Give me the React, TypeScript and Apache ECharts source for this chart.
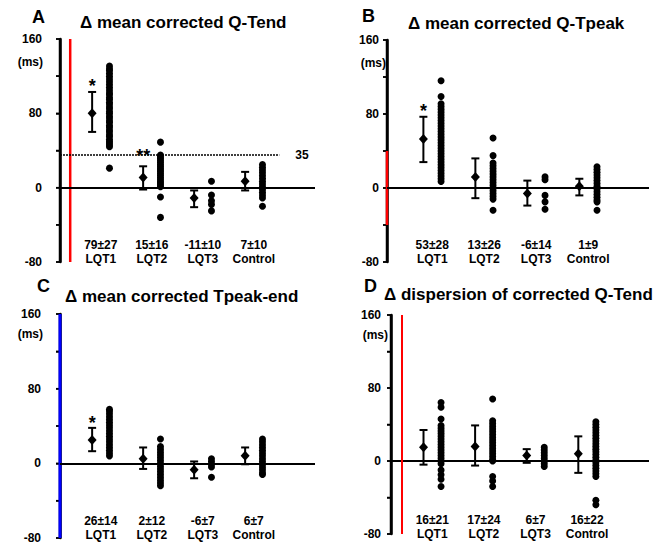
import React, { useEffect, useRef } from "react";
import * as echarts from "echarts";

const categories = ["LQT1", "LQT2", "LQT3", "Control"];
const yTickLabels = [-80, 0, 80, 160];
const yAllTicks = [-80, -40, 0, 40, 80, 120, 160];
const panelLetters = ["A", "B", "C", "D"];
const panelTitles = [
  "Δ mean corrected Q-Tend",
  "Δ mean corrected Q-Tpeak",
  "Δ mean corrected Tpeak-end",
  "Δ dispersion of corrected Q-Tend",
];

const statsA = ["79±27", "15±16", "-11±10", "7±10"];
const meanA = [80, 11, -11, 7];
const lowA = [60, -2, -21, -3];
const highA = [103, 23, -3, 17];
const dotsA = [
  [21, 44, 46, 48, 50, 52, 55, 57, 60, 62, 65, 67, 70, 72, 75, 77, 80, 82, 85, 87, 90, 92, 95, 97, 100, 102, 105, 108, 111, 114, 117, 120, 123, 126, 128, 131],
  [49, 35, 33, 31, 29, 27, 25, 23, 21, 19, 17, 15, 13, 11, 9, 7, 5, 3, 1, -10, -32],
  [7, -8, -14, -18, -25],
  [25, 22, 19, 16, 13, 10, 7, 4, 1, -2, -5, -8, -11, -20],
];
const marksA = [
  { cat: 0, value: 115, text: "*" },
  { cat: 1, value: 40, text: "**" },
];
const refLineA = 35;

const statsB = ["53±28", "13±26", "-6±14", "1±9"];
const meanB = [53, 12, -6, 2];
const lowB = [28, -11, -19, -8];
const highB = [77, 32, 8, 10];
const dotsB = [
  [7, 10, 13, 16, 19, 22, 25, 28, 31, 34, 37, 40, 43, 46, 49, 52, 55, 58, 61, 64, 67, 70, 73, 76, 79, 82, 85, 88, 91, 99, 116],
  [54, 35, 27, 24, 21, 18, 15, 12, 9, 6, 3, 0, -3, -6, -9, -12, -24],
  [12, 9, -8, -15, -23],
  [23, 20, 17, 14, 11, 8, 5, 2, -1, -4, -7, -10, -13, -15, -24],
];
const marksB = [{ cat: 0, value: 89, text: "*" }];

const statsC = ["26±14", "2±12", "-6±7", "6±7"];
const meanC = [25, 5, -7, 8];
const lowC = [13, -6, -16, -1];
const highC = [38, 17, 2, 17];
const dotsC = [
  [8, 11, 14, 17, 20, 23, 26, 29, 32, 35, 38, 41, 44, 47, 50, 53, 56, 58],
  [26, 18, 15, 12, 9, 6, 3, 0, -3, -6, -9, -12, -15, -18, -21, -24],
  [5, 2, -1, -4, -15],
  [26, 23, 20, 17, 14, 11, 8, 5, 2, -1, -4, -7, -10, -12],
];
const marksC = [{ cat: 0, value: 49, text: "*" }];

const statsD = ["16±21", "17±24", "6±7", "16±22"];
const meanD = [15, 16, 6, 8];
const lowD = [-4, -5, -2, -13];
const highD = [34, 39, 13, 27];
const dotsD = [
  [64, 59, 46, 39, 36, 33, 30, 27, 24, 21, 18, 15, 12, 9, 6, 3, 0, -3, -10, -15, -20, -28],
  [68, 44, 41, 38, 35, 32, 29, 26, 23, 20, 17, 14, 11, 8, 5, 2, 0, -17, -22, -28],
  [15, 12, 9, 6, 3, 0, -3, -6],
  [43, 40, 37, 34, 31, 28, 25, 22, 19, 16, 13, 10, 7, 4, 1, -2, -5, -8, -11, -14, -17, -43, -48],
];
const marksD: { cat: number; value: number; text: string }[] = [];

const panels = [
  { stats: statsA, mean: meanA, low: lowA, high: highA, dots: dotsA, marks: marksA, ref: refLineA },
  { stats: statsB, mean: meanB, low: lowB, high: highB, dots: dotsB, marks: marksB, ref: null },
  { stats: statsC, mean: meanC, low: lowC, high: highC, dots: dotsC, marks: marksC, ref: null },
  { stats: statsD, mean: meanD, low: lowD, high: highD, dots: dotsD, marks: marksD, ref: null },
];

const PAD = 12;
const layouts = [
  { left: 60, top: 39, width: 255, height: 223, c0: 0.8, span: 5.0, yMargin: 18, catMargin: -4, msX: 43, msY: 62, letterX: 40, letterY: 18, titleX: 80, titleY: 22 },
  { left: 387, top: 40, width: 262, height: 222, c0: 0.87, span: 5.04, yMargin: 8, catMargin: -4, msX: 386, msY: 63, letterX: 370, letterY: 17, titleX: 408, titleY: 23 },
  { left: 60, top: 314, width: 255, height: 224, c0: 0.8, span: 5.0, yMargin: 19, catMargin: -4, msX: 43, msY: 334, letterX: 45, letterY: 287, titleX: 65, titleY: 296 },
  { left: 391, top: 315, width: 258, height: 219, c0: 0.8, span: 5.0, yMargin: 10, catMargin: -7, msX: 388, msY: 335, letterX: 372, letterY: 287, titleX: 384, titleY: 294 },
];

const OFF = 0.17;
const FONT = "'Liberation Sans', Arial, Helvetica, sans-serif";

export default function App() {
  const ref = useRef<HTMLDivElement>(null);
  useEffect(() => {
    if (!ref.current) return;
    const chart = echarts.init(ref.current, undefined, { renderer: "svg" });

    const grid: any[] = [];
    const xAxis: any[] = [];
    const yAxis: any[] = [];
    const series: any[] = [];
    const graphic: any[] = [];

    panels.forEach((p, k) => {
      const L = layouts[k];
      const pxPerUnit = L.width / L.span;
      const extMin = -PAD / pxPerUnit;
      const xMax = L.span;
      const c0 = L.c0;
      grid.push({ left: L.left - PAD, top: L.top, width: L.width + PAD, height: L.height, containLabel: false });
      xAxis.push({
        type: "value",
        gridIndex: k,
        min: extMin,
        max: xMax,
        position: "bottom",
        axisLine: { show: false, onZero: false },
        axisTick: { show: false },
        splitLine: { show: false },
        axisLabel: {
          show: true,
          inside: true,
          margin: L.catMargin,
          customValues: [0, 1, 2, 3].map((i) => i + c0),
          formatter: (v: number) => {
            const i = Math.round(v - c0);
            return (p.stats[i] ?? "") + "\n" + (categories[i] ?? "");
          },
          color: "#000",
          fontFamily: FONT,
          fontWeight: "bold",
          fontSize: 12,
          lineHeight: 14,
        },
      });
      yAxis.push({
        type: "value",
        gridIndex: k,
        min: -80,
        max: 160,
        interval: 40,
        position: "left",
        axisLine: { show: true, onZero: true, lineStyle: { color: "#000", width: 2.5 } },
        axisTick: { show: true, length: 4, lineStyle: { color: "#000", width: 1.5 } },
        splitLine: { show: false },
        axisLabel: {
          margin: L.yMargin - PAD,
          color: "#000",
          fontFamily: FONT,
          fontWeight: "bold",
          fontSize: 12,
          formatter: (v: number) => (yTickLabels.includes(v) ? String(v) : ""),
        },
      });

      const markData: any[] = [
        [
          { coord: [0, 0], lineStyle: { color: "#000", width: 2, type: "solid" }, label: { show: false } },
          { coord: [xMax, 0] },
        ],
      ];
      if (k === 3) {
        markData.push([
          { coord: [0.2, -80], lineStyle: { color: "#f00", width: 2, type: "solid" }, label: { show: false } },
          { coord: [0.2, 160] },
        ]);
      }
      if (p.ref !== null) {
        markData.push([
          {
            coord: [0, p.ref],
            lineStyle: { color: "#000", width: 1.5, type: [2, 1] },
            label: {
              show: true,
              position: "end",
              formatter: String(p.ref),
              distance: 16,
              color: "#000",
              fontFamily: FONT,
              fontWeight: "bold",
              fontSize: 12,
            },
          },
          { coord: [3.5 + c0, p.ref] },
        ]);
      }

      const dotData: number[][] = [];
      p.dots.forEach((arr, i) => arr.forEach((v) => dotData.push([i + c0 + OFF, v])));
      series.push({
        type: "scatter",
        xAxisIndex: k,
        yAxisIndex: k,
        data: dotData,
        symbol: "circle",
        symbolSize: 7,
        itemStyle: { color: "#000", opacity: 1 },
        silent: true,
        z: 3,
        markLine: { silent: true, symbol: "none", animation: false, data: markData },
      });

      const barData = p.low.map((lo, i) => [i + c0 - OFF, lo, p.high[i], 1]);
      barData.push([0, -80, 160, 0]);
      if (k === 0) barData.push([0.2, -80, 160, 2]);
      if (k === 1) barData.push([0, -40, 40, 2]);
      if (k === 2) barData.push([0, -80, 160, 3]);
      series.push({
        type: "custom",
        xAxisIndex: k,
        yAxisIndex: k,
        encode: { x: 0, y: [1, 2] },
        data: barData,
        z: 4,
        renderItem: (params: any, api: any) => {
          const x = api.value(0);
          const top = api.coord([x, api.value(2)]);
          const bot = api.coord([x, api.value(1)]);
          const kind = api.value(3);
          const w = 4;
          const st = { stroke: kind >= 2 ? "#f00" : "#000", lineWidth: kind === 1 ? 2 : 2.5 };
          if (kind === 3) {
            return { type: "rect", shape: { x: top[0] - 1.5, y: top[1], width: 3, height: bot[1] - top[1] }, style: { fill: "#00f" } };
          }
          const children: any[] = [
            { type: "line", shape: { x1: top[0], y1: top[1], x2: bot[0], y2: bot[1] }, style: st },
          ];
          if (kind === 1) {
            children.push(
              { type: "line", shape: { x1: top[0] - w, y1: top[1], x2: top[0] + w, y2: top[1] }, style: st },
              { type: "line", shape: { x1: bot[0] - w, y1: bot[1], x2: bot[0] + w, y2: bot[1] }, style: st }
            );
          } else if (kind === 0) {
            yAllTicks.forEach((t) => {
              const q = api.coord([x, t]);
              children.push({ type: "line", shape: { x1: q[0] - 4, y1: q[1], x2: q[0], y2: q[1] }, style: { stroke: "#000", lineWidth: 1.5 } });
            });
          }
          return { type: "group", children };
        },
      });

      series.push({
        type: "scatter",
        xAxisIndex: k,
        yAxisIndex: k,
        data: p.mean.map((m, i) => [i + c0 - OFF, m]),
        symbol: "diamond",
        symbolSize: [9, 10],
        itemStyle: { color: "#000", opacity: 1 },
        z: 5,
      });

      if (p.marks.length) {
        series.push({
          type: "scatter",
          xAxisIndex: k,
          yAxisIndex: k,
          data: p.marks.map((m) => ({ value: [m.cat + c0 - OFF, m.value], name: m.text })),
          symbolSize: 1,
          itemStyle: { color: "rgba(0,0,0,0)", opacity: 1 },
          z: 6,
          label: {
            show: true,
            position: "inside",
            formatter: (d: any) => d.name,
            color: "#000",
            fontFamily: FONT,
            fontWeight: "bold",
            fontSize: 18,
            offset: [0, 5],
          },
        });
      }

      graphic.push(
        {
          type: "text",
          left: L.letterX - 8,
          top: L.letterY - 10,
          style: { text: panelLetters[k], fill: "#000", font: `bold 18px ${FONT}` },
        },
        {
          type: "text",
          x: L.titleX,
          y: L.titleY,
          style: { text: panelTitles[k], fill: "#000", font: `bold 17px ${FONT}`, textVerticalAlign: "middle", textAlign: "left" },
        },
        {
          type: "text",
          x: L.msX,
          y: L.msY,
          style: { text: "(ms)", fill: "#000", font: `bold 12px ${FONT}`, textVerticalAlign: "middle", textAlign: "right" },
        }
      );
    });

    chart.setOption({
      animation: false,
      backgroundColor: "#fff",
      grid,
      xAxis,
      yAxis,
      series,
      graphic,
    });
    return () => chart.dispose();
  }, []);
  return (
    <div
      ref={ref}
      style={{ position: "absolute", left: 0, top: 0, width: 667, height: 544, background: "#fff" }}
    />
  );
}
